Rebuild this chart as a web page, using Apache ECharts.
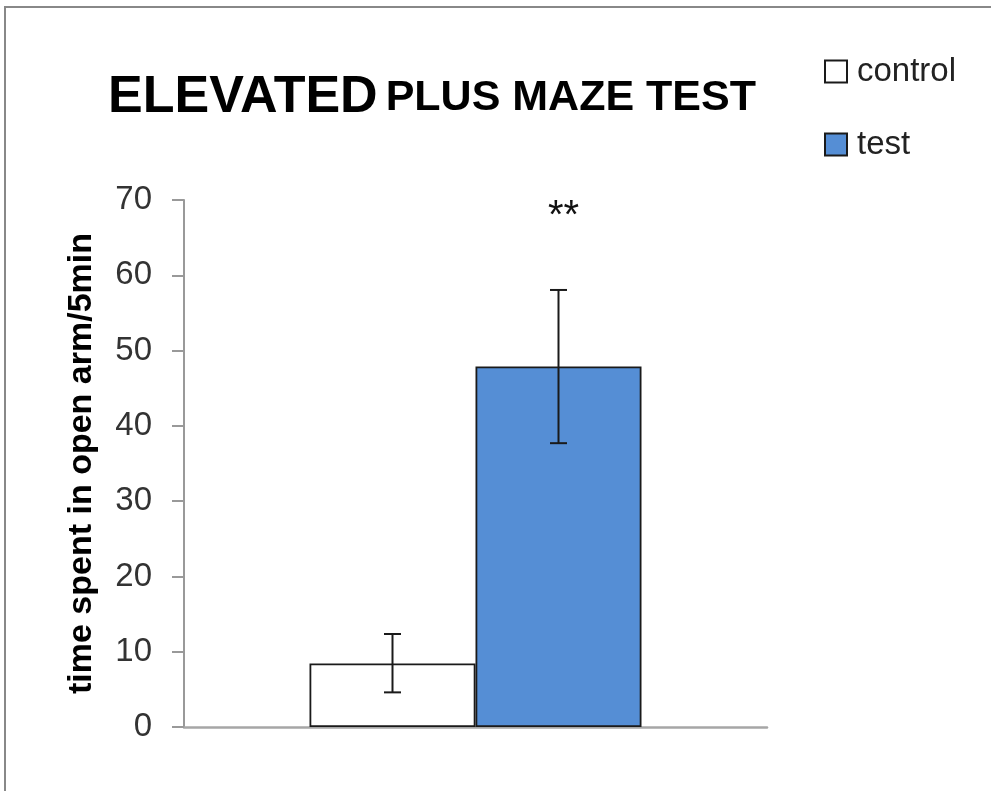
<!DOCTYPE html>
<html>
<head>
<meta charset="utf-8">
<script src="https://cdn.jsdelivr.net/npm/echarts@6/dist/echarts.min.js"></script>
<style>
html,body{margin:0;padding:0;background:#fff;}
#chart{width:991px;height:791px;}
</style>
</head>
<body>
<div id="chart"></div>
<script>
// ---- data ----
const categories = [''];
const seriesNames = ['control', 'test'];
const means = [8.44, 47.9];
const errLow = [4.6, 37.7];
const errHigh = [12.35, 58.05];
const annotations = ['', '**'];
const annotationValue = 67.8;
const yTicks = [0, 10, 20, 30, 40, 50, 60, 70];
const titleMain = 'ELEVATED';
const titleRest = 'PLUS MAZE TEST';
const yAxisTitle = 'time spent in open arm/5min';

const BAR_W = 166;
const FONT = '"Liberation Sans", Arial, sans-serif';
const colors = ['#ffffff', '#558ED5'];
const chart = echarts.init(document.getElementById('chart'), null, {renderer: 'canvas'});

const barSeries = seriesNames.map((name, i) => ({
  name: name,
  type: 'bar',
  data: [means[i]],
  barWidth: BAR_W,
  barGap: '0%',
  itemStyle: {color: colors[i], borderColor: '#1a1a1a', borderWidth: 1.8},
  emphasis: {disabled: true},
  z: 2
}));

const errData = seriesNames.map((n, i) => [0, errLow[i], errHigh[i], i]);

const errSeries = {
  type: 'custom',
  data: errData,
  z: 5,
  silent: true,
  renderItem: function (params, api) {
    const idx = api.value(3);
    const offset = (idx === 0 ? -1 : 1) * BAR_W / 2;
    const lo = api.coord([api.value(0), api.value(1)]);
    const hi = api.coord([api.value(0), api.value(2)]);
    const x = lo[0] + offset;
    const cap = 8.5;
    const st = {stroke: '#1a1a1a', lineWidth: 2};
    const children = [
      {type: 'line', shape: {x1: x, y1: lo[1], x2: x, y2: hi[1]}, style: st},
      {type: 'line', shape: {x1: x - cap, y1: lo[1], x2: x + cap, y2: lo[1]}, style: st},
      {type: 'line', shape: {x1: x - cap, y1: hi[1], x2: x + cap, y2: hi[1]}, style: st}
    ];
    const ann = annotations[idx];
    if (ann) {
      const ap = api.coord([api.value(0), annotationValue]);
      children.push({type: 'text', style: {text: ann, x: x + 5, y: ap[1], align: 'center', verticalAlign: 'middle', fill: '#111', font: '40px ' + FONT}});
    }
    return {type: 'group', children: children};
  }
};

chart.setOption({
  backgroundColor: '#ffffff',
  animation: false,
  title: {
    text: '{a|' + titleMain + '}{b|' + titleRest + '}',
    left: 108,
    top: 72,
    padding: 0,
    textStyle: {
      rich: {
        a: {fontFamily: FONT, fontWeight: 'bold', fontSize: 52, color: '#000'},
        b: {fontFamily: FONT, fontWeight: 'bold', fontSize: 43, color: '#000', padding: [0, 0, 0, 8]}
      }
    }
  },
  legend: {
    orient: 'vertical',
    left: 824,
    top: 55,
    padding: 0,
    itemWidth: 22,
    itemHeight: 22,
    itemGap: 40,
    icon: 'rect',
    selectedMode: false,
    data: seriesNames,
    textStyle: {fontFamily: FONT, fontSize: 33, color: '#222', padding: [0, 0, 0, 5]}
  },
  grid: {left: 184, right: 224, top: 200, bottom: 64, containLabel: false},
  xAxis: {
    type: 'category',
    data: categories,
    axisLine: {lineStyle: {color: '#a6a6a6', width: 2.5}},
    axisTick: {show: false},
    axisLabel: {show: false}
  },
  yAxis: {
    type: 'value',
    min: yTicks[0],
    max: yTicks[yTicks.length - 1],
    interval: 10,
    name: yAxisTitle,
    nameLocation: 'middle',
    nameGap: 85,
    nameRotate: 90,
    nameTextStyle: {fontFamily: FONT, fontWeight: 'bold', fontSize: 34, color: '#000'},
    axisLine: {show: true, lineStyle: {color: '#999', width: 2}},
    axisTick: {show: true, length: 12, inside: false, lineStyle: {color: '#999', width: 2}},
    splitLine: {show: false},
    axisLabel: {fontFamily: FONT, fontSize: 33, color: '#333', margin: 32}
  },
  graphic: [{
    type: 'rect',
    shape: {x: 5, y: 7, width: 1000, height: 800},
    style: {fill: 'none', stroke: '#888', lineWidth: 2},
    silent: true,
    z: -10
  }],
  series: barSeries.concat([errSeries])
});
</script>
</body>
</html>
